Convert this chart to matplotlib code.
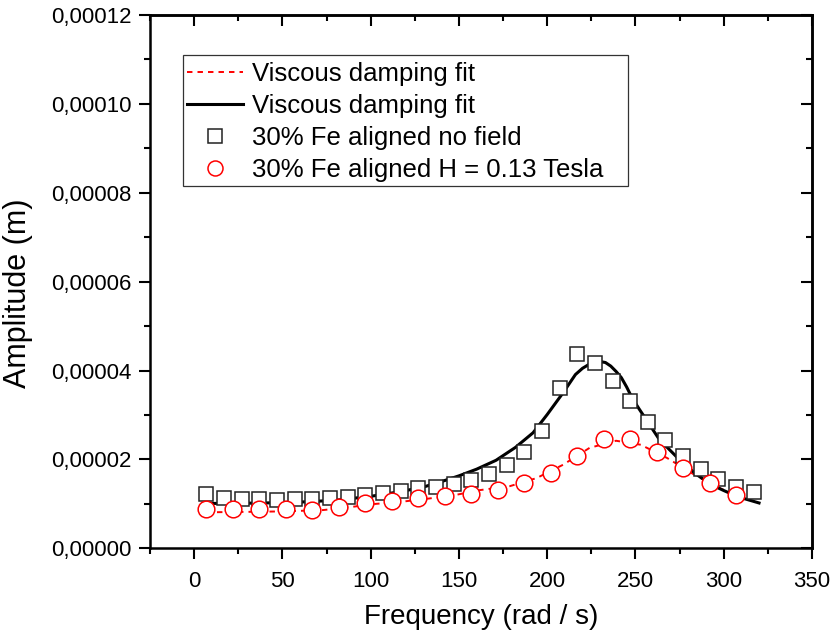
import matplotlib
matplotlib.use("Agg")
import matplotlib.pyplot as plt
from matplotlib.ticker import MultipleLocator, FuncFormatter
from matplotlib.patches import Rectangle

plt.rcParams['font.family'] = ['Liberation Sans', 'DejaVu Sans']

# Measured data
freq_nofield = [7, 17, 27, 37, 47, 57, 67, 77, 87, 97, 107, 117, 127, 137, 147, 157,
                167, 177, 187, 197, 207, 217, 227, 237, 247, 257, 267, 277, 287, 297, 307, 317]
amp_nofield = [1.22e-5, 1.14e-5, 1.12e-5, 1.11e-5, 1.09e-5, 1.11e-5, 1.11e-5, 1.14e-5,
               1.16e-5, 1.19e-5, 1.24e-5, 1.29e-5, 1.36e-5, 1.37e-5, 1.44e-5, 1.53e-5,
               1.68e-5, 1.88e-5, 2.17e-5, 2.65e-5, 3.60e-5, 4.38e-5, 4.16e-5, 3.77e-5,
               3.31e-5, 2.85e-5, 2.43e-5, 2.07e-5, 1.78e-5, 1.56e-5, 1.39e-5, 1.26e-5]

freq_field = [7, 22, 37, 52, 67, 82, 97, 112, 127, 142, 157, 172, 187, 202, 217, 232,
              247, 262, 277, 292, 307]
amp_field = [0.88e-5, 0.88e-5, 0.88e-5, 0.88e-5, 0.86e-5, 0.92e-5, 1.01e-5, 1.07e-5,
             1.14e-5, 1.17e-5, 1.23e-5, 1.31e-5, 1.46e-5, 1.70e-5, 2.08e-5, 2.47e-5,
             2.46e-5, 2.17e-5, 1.80e-5, 1.48e-5, 1.21e-5]

# Fit curves
fit_freq_nofield = [5, 20, 40, 60, 80, 100, 110, 120, 130, 140, 150, 160, 171, 182, 192,
                    200, 209, 216, 220, 225, 229, 233, 236, 239, 242, 245, 248, 252, 256,
                    263, 268, 273, 278, 285, 293, 300, 308, 320]
fit_amp_nofield = [1.01e-5, 1.01e-5, 1.02e-5, 1.04e-5, 1.08e-5, 1.17e-5, 1.23e-5, 1.30e-5,
                   1.38e-5, 1.50e-5, 1.63e-5, 1.78e-5, 1.98e-5, 2.27e-5, 2.60e-5, 3.01e-5,
                   3.50e-5, 3.91e-5, 4.05e-5, 4.17e-5, 4.21e-5, 4.18e-5, 4.10e-5, 3.98e-5,
                   3.84e-5, 3.63e-5, 3.39e-5, 3.14e-5, 2.90e-5, 2.48e-5, 2.27e-5, 2.07e-5,
                   1.88e-5, 1.65e-5, 1.43e-5, 1.30e-5, 1.16e-5, 1.02e-5]

fit_freq_field = [7, 30, 50, 73, 89, 103, 118, 133, 148, 162, 179, 194, 209, 224, 239,
                  253, 268, 284, 299, 308]
fit_amp_field = [0.81e-5, 0.82e-5, 0.83e-5, 0.86e-5, 0.93e-5, 1.00e-5, 1.05e-5, 1.12e-5,
                 1.20e-5, 1.31e-5, 1.40e-5, 1.58e-5, 1.88e-5, 2.26e-5, 2.42e-5, 2.33e-5,
                 2.03e-5, 1.64e-5, 1.33e-5, 1.20e-5]

x_label = "Frequency (rad / s)"
y_label = "Amplitude (m)"
labels = ["Viscous damping fit", "Viscous damping fit",
          "30% Fe aligned no field", "30% Fe aligned H = 0.13 Tesla"]

fig = plt.figure(figsize=(8.31, 6.37), dpi=100)
W, H = 831, 637
ax_l, ax_r, ax_t, ax_b = 150, 812, 15, 548.3
ax = fig.add_axes([ax_l / W, 1 - ax_b / H, (ax_r - ax_l) / W, (ax_b - ax_t) / H])
aw, ah = ax_r - ax_l, ax_b - ax_t

l_red, = ax.plot(fit_freq_field, fit_amp_field, color='red', lw=1.4, ls=(0, (2.8, 2.6)), zorder=2)
l_blk, = ax.plot(fit_freq_nofield, fit_amp_nofield, color='black', lw=2.2, zorder=2,
                 solid_joinstyle='round')
m_sq, = ax.plot(freq_nofield, amp_nofield, ls='none', marker='s', ms=10.5, mfc='white',
                mec='#222222', mew=1.1, zorder=3)
m_ci, = ax.plot(freq_field, amp_field, ls='none', marker='o', ms=12, mfc='white',
                mec='red', mew=1.1, zorder=4)

ax.set_xlim(-25, 350)
ax.set_ylim(0, 0.00012)
ax.xaxis.set_major_locator(MultipleLocator(50))
ax.xaxis.set_minor_locator(MultipleLocator(25))
ax.yaxis.set_major_locator(MultipleLocator(0.00002))
ax.yaxis.set_minor_locator(MultipleLocator(0.00001))
ax.yaxis.set_major_formatter(FuncFormatter(lambda v, p: f"{v:.5f}".replace('.', ',')))

for s in ax.spines.values():
    s.set_linewidth(1.8)

ax.tick_params(axis='both', which='major', length=8, width=1.5, labelsize=16)
ax.tick_params(axis='both', which='minor', length=4.5, width=1.5)
ax.tick_params(axis='x', which='both', direction='out', pad=8, top=False)
ax.tick_params(axis='y', which='both', direction='out', pad=5, right=False)

# mirrored inward ticks on top and right
axt = ax.secondary_xaxis('top')
axt.xaxis.set_major_locator(MultipleLocator(50))
axt.xaxis.set_minor_locator(MultipleLocator(25))
axt.tick_params(which='major', direction='in', length=8, width=1.5, labeltop=False)
axt.tick_params(which='minor', direction='in', length=4.5, width=1.5)
axt.spines['top'].set_linewidth(1.8)
axr = ax.secondary_yaxis('right')
axr.yaxis.set_major_locator(MultipleLocator(0.00002))
axr.yaxis.set_minor_locator(MultipleLocator(0.00001))
axr.tick_params(which='major', direction='in', length=8, width=1.5, labelright=False)
axr.tick_params(which='minor', direction='in', length=4.5, width=1.5)
axr.spines['right'].set_linewidth(1.8)

ax.set_xlabel(x_label, fontsize=20, labelpad=9)
ax.set_ylabel(y_label, fontsize=22)
ax.yaxis.set_label_coords((33 - ax_l) / aw, 0.479)

# legend box (drawn separately to match the reference padding)
box = Rectangle(((183 - ax_l) / aw, (ax_b - 186) / ah), (628 - 183) / aw, (186 - 55) / ah,
                transform=ax.transAxes, facecolor='white', edgecolor='#333333',
                linewidth=0.9, zorder=5)
ax.add_patch(box)
leg = ax.legend([l_red, l_blk, m_sq, m_ci], labels, loc='upper left',
                bbox_to_anchor=((183 - ax_l) / aw, (ax_b - 58) / ah), borderaxespad=0,
                fontsize=18.5, frameon=False, handlelength=2.2,
                handletextpad=0.35, labelspacing=0.31, borderpad=0.15, markerscale=0.9)
leg.set_zorder(6)

fig.savefig("out.png", dpi=100)
